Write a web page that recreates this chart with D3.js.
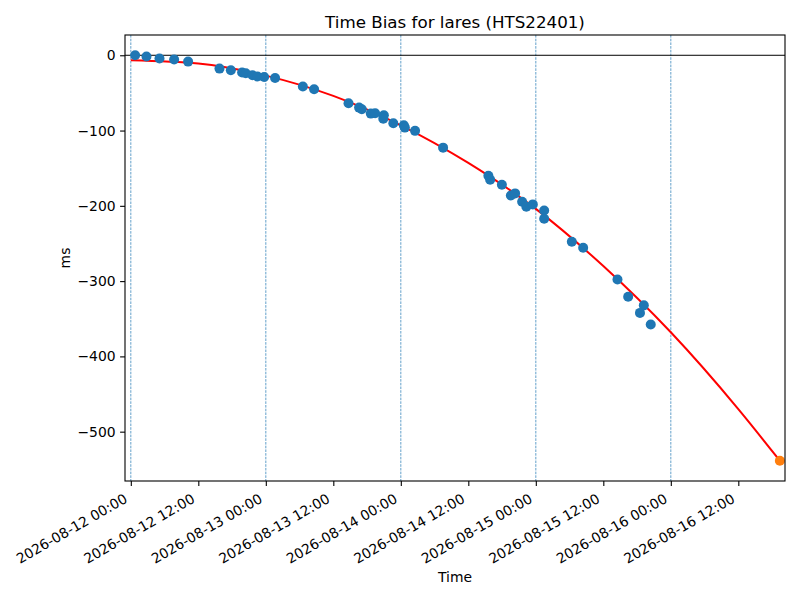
<!DOCTYPE html>
<meta charset="utf-8">
<style>
body { margin: 0; background: #fff; }
svg, svg text { font-family: "DejaVu Sans", sans-serif; }
.axis text { font-size: 13.9px; fill: #000; font-family: "DejaVu Sans", sans-serif; }
.axis path, .axis line { stroke: #000; stroke-width: 1.1px; }
</style>
<body>
<script src="https://d3js.org/d3.v7.min.js"></script>
<script>

// observed time bias points (UTC)
var obsTimes = [
  "2026-08-12T00:46", "2026-08-12T02:47", "2026-08-12T05:06", "2026-08-12T07:42",
  "2026-08-12T10:11", "2026-08-12T15:46", "2026-08-12T17:47", "2026-08-12T19:47",
  "2026-08-12T20:26", "2026-08-12T21:38", "2026-08-12T22:31", "2026-08-12T23:42",
  "2026-08-13T01:39", "2026-08-13T06:35", "2026-08-13T08:35", "2026-08-13T14:42",
  "2026-08-13T16:35", "2026-08-13T17:04", "2026-08-13T18:40", "2026-08-13T19:26",
  "2026-08-13T20:59", "2026-08-13T20:53", "2026-08-13T22:40", "2026-08-14T00:32",
  "2026-08-14T00:43", "2026-08-14T02:32", "2026-08-14T07:31", "2026-08-14T15:34",
  "2026-08-14T15:53", "2026-08-14T17:58", "2026-08-14T19:34", "2026-08-14T20:19",
  "2026-08-14T21:34", "2026-08-14T22:19", "2026-08-14T23:28", "2026-08-15T01:29",
  "2026-08-15T01:29", "2026-08-15T06:24", "2026-08-15T08:25", "2026-08-15T14:31",
  "2026-08-15T16:25", "2026-08-15T19:12", "2026-08-15T18:31", "2026-08-15T20:26"
];
var obsBias = [
  0, -1.7, -4.4, -5.7,
  -8.4, -17.7, -19.9, -23.0,
  -23.9, -26.6, -28.3, -28.9,
  -30.2, -41.6, -45.2, -63.8,
  -69.5, -71.8, -77.5, -77.1,
  -79.8, -84.2, -90.4, -93.1,
  -96.1, -100.4, -122.7, -160.0,
  -165.3, -171.9, -186.2, -183.5,
  -194.5, -201.2, -198.1, -206.1,
  -217.2, -247.7, -255.7, -297.9,
  -320.7, -332.2, -342.2, -357.7
];

// fitted curve
var fitTimes = [
  "2026-08-12T00:00", "2026-08-12T12:00", "2026-08-13T00:00", "2026-08-13T12:00",
  "2026-08-14T00:00", "2026-08-14T12:00", "2026-08-15T00:00", "2026-08-15T12:00",
  "2026-08-16T00:00", "2026-08-16T12:00", "2026-08-16T19:23"
];
var fitBias = [-6.5, -11, -27, -54, -93, -143, -204, -280, -368, -470, -538.6];

// predicted point
var predTime = "2026-08-16T19:23";
var predBias = -538.6;

// day boundaries marked with dashed lines
var dayLines = ["2026-08-12T00:00", "2026-08-13T00:00", "2026-08-14T00:00",
                "2026-08-15T00:00", "2026-08-16T00:00"];

var xLimits = ["2026-08-11T22:58", "2026-08-16T20:18"];

var parse = d3.utcParse("%Y-%m-%dT%H:%M");

var margin = {top: 35, right: 15, bottom: 119, left: 125},
    width = 800 - margin.left - margin.right,
    height = 600 - margin.top - margin.bottom;

var svg = d3.select("body").append("svg")
    .attr("width", 800)
    .attr("height", 600);

var g = svg.append("g")
    .attr("transform", "translate(" + margin.left + "," + margin.top + ")");

var obs = obsTimes.map(function(t, i) { return {t: parse(t), v: obsBias[i]}; });
var fit = fitTimes.map(function(t, i) { return {t: parse(t), v: fitBias[i]}; });

var x = d3.scaleUtc()
    .domain(xLimits.map(parse))
    .range([0, width]);

// matplotlib-like 5% margin on y
var allV = obsBias.concat(fitBias, [predBias]);
var lo = d3.min(allV), hi = d3.max(allV), pad = (hi - lo) * 0.05;
var y = d3.scaleLinear()
    .domain([lo - pad, hi + pad])
    .range([height, 0]);

g.append("defs").append("clipPath").attr("id", "clip")
  .append("rect").attr("width", width).attr("height", height);

var plot = g.append("g").attr("clip-path", "url(#clip)");

plot.selectAll("line.day")
    .data(dayLines)
  .enter().append("line")
    .attr("class", "day")
    .attr("x1", function(d) { return x(parse(d)); })
    .attr("x2", function(d) { return x(parse(d)); })
    .attr("y1", 0)
    .attr("y2", height)
    .attr("stroke", "#1f77b4")
    .attr("stroke-width", 0.7)
    .attr("stroke-dasharray", "2.6,1.1");

plot.append("line")
    .attr("x1", 0).attr("x2", width)
    .attr("y1", y(0)).attr("y2", y(0))
    .attr("stroke", "#000")
    .attr("stroke-width", 1);

var line = d3.line()
    .x(function(d) { return x(d.t); })
    .y(function(d) { return y(d.v); })
    .curve(d3.curveMonotoneX);

plot.append("path")
    .datum(fit)
    .attr("d", line)
    .attr("fill", "none")
    .attr("stroke", "red")
    .attr("stroke-width", 2);

plot.selectAll("circle.obs")
    .data(obs)
  .enter().append("circle")
    .attr("class", "obs")
    .attr("cx", function(d) { return x(d.t); })
    .attr("cy", function(d) { return y(d.v); })
    .attr("r", 5)
    .attr("fill", "#1f77b4");

plot.append("circle")
    .attr("cx", x(parse(predTime)))
    .attr("cy", y(predBias))
    .attr("r", 5)
    .attr("fill", "#ff7f0e");

// axes
var xAxis = g.append("g")
    .attr("class", "axis")
    .attr("transform", "translate(0," + height + ")")
    .call(d3.axisBottom(x)
        .ticks(d3.utcHour.every(12))
        .tickFormat(d3.utcFormat("%Y-%m-%d %H:%M"))
        .tickSize(4.9)
        .tickSizeOuter(0));

xAxis.selectAll(".tick text")
    .attr("y", 0)
    .attr("dy", 0)
    .attr("text-anchor", "end")
    .attr("transform", "translate(-3,20.5) rotate(-30)");

var yAxis = g.append("g")
    .attr("class", "axis")
    .call(d3.axisLeft(y)
        .ticks(6)
        .tickSize(4.9)
        .tickPadding(4.5)
        .tickSizeOuter(0));

yAxis.select(".domain").remove();
xAxis.select(".domain").remove();

g.append("rect")
    .attr("width", width)
    .attr("height", height)
    .attr("fill", "none")
    .attr("stroke", "#000")
    .attr("stroke-width", 1.1);

svg.append("text")
    .attr("x", margin.left + width / 2)
    .attr("y", 28)
    .attr("text-anchor", "middle")
    .style("font-size", "16.7px")
    .text("Time Bias for lares (HTS22401)");

svg.append("text")
    .attr("x", margin.left + width / 2)
    .attr("y", 582)
    .attr("text-anchor", "middle")
    .style("font-size", "13.9px")
    .text("Time");

svg.append("text")
    .attr("transform", "translate(70," + (margin.top + height / 2) + ") rotate(-90)")
    .attr("text-anchor", "middle")
    .style("font-size", "13.9px")
    .text("ms");

</script>
